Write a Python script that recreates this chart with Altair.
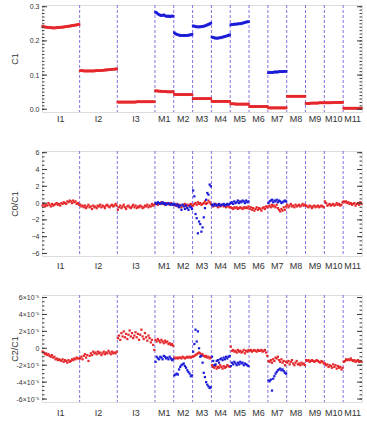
import altair as alt
import pandas as pd

# ---------------- data ----------------
BANDS = ["I1", "I2", "I3", "M1", "M2", "M3", "M4", "M5", "M6", "M7", "M8", "M9", "M10", "M11"]
DETECTORS = [32, 32, 32, 16, 16, 16, 16, 16, 16, 16, 16, 16, 16, 16]
DUAL_GAIN = ["M1", "M2", "M3", "M4", "M5", "M7"]

# C1, low gain (red), one list per band in BANDS order
C1_LOW = [
    [0.242, 0.241, 0.241, 0.240, 0.240, 0.239, 0.239, 0.239, 0.238, 0.238, 0.238, 0.238, 0.239, 0.239, 0.239, 0.240,
     0.240, 0.240, 0.241, 0.241, 0.242, 0.242, 0.243, 0.243, 0.244, 0.245, 0.245, 0.246, 0.246, 0.247, 0.248, 0.248],
    [0.113, 0.113, 0.113, 0.112, 0.112, 0.112, 0.112, 0.112, 0.112, 0.112, 0.112, 0.112, 0.112, 0.113, 0.113, 0.113,
     0.113, 0.113, 0.114, 0.114, 0.114, 0.115, 0.115, 0.115, 0.116, 0.116, 0.116, 0.117, 0.117, 0.117, 0.118, 0.118],
    [0.021, 0.021, 0.021, 0.021, 0.021, 0.021, 0.021, 0.021, 0.021, 0.021, 0.021, 0.021, 0.021, 0.021, 0.021, 0.021,
     0.022, 0.022, 0.022, 0.022, 0.022, 0.022, 0.022, 0.022, 0.022, 0.022, 0.022, 0.022, 0.022, 0.022, 0.022, 0.022],
    [0.054, 0.054, 0.053, 0.053, 0.053, 0.052, 0.052, 0.052, 0.052, 0.052, 0.051, 0.051, 0.051, 0.051, 0.051, 0.052],
    [0.044, 0.043, 0.043, 0.043, 0.043, 0.043, 0.043, 0.043, 0.043, 0.043, 0.043, 0.043, 0.043, 0.043, 0.043, 0.043],
    [0.031, 0.031, 0.031, 0.031, 0.031, 0.031, 0.031, 0.031, 0.031, 0.031, 0.031, 0.031, 0.031, 0.031, 0.031, 0.031],
    [0.023, 0.023, 0.023, 0.023, 0.023, 0.023, 0.023, 0.023, 0.023, 0.023, 0.023, 0.023, 0.023, 0.023, 0.023, 0.023],
    [0.016, 0.016, 0.016, 0.016, 0.015, 0.015, 0.015, 0.015, 0.015, 0.015, 0.015, 0.015, 0.015, 0.015, 0.015, 0.015],
    [0.008, 0.008, 0.008, 0.008, 0.008, 0.008, 0.008, 0.008, 0.008, 0.008, 0.008, 0.008, 0.008, 0.008, 0.008, 0.008],
    [0.004, 0.004, 0.004, 0.004, 0.004, 0.004, 0.004, 0.004, 0.004, 0.004, 0.004, 0.004, 0.004, 0.004, 0.004, 0.004],
    [0.038, 0.038, 0.038, 0.038, 0.038, 0.038, 0.038, 0.038, 0.038, 0.038, 0.038, 0.038, 0.038, 0.038, 0.038, 0.038],
    [0.017, 0.017, 0.017, 0.017, 0.018, 0.018, 0.018, 0.018, 0.018, 0.018, 0.018, 0.019, 0.019, 0.019, 0.019, 0.019],
    [0.019, 0.019, 0.019, 0.019, 0.019, 0.019, 0.019, 0.020, 0.020, 0.020, 0.020, 0.020, 0.020, 0.020, 0.020, 0.020],
    [0.003, 0.003, 0.003, 0.003, 0.003, 0.003, 0.003, 0.003, 0.003, 0.003, 0.003, 0.003, 0.003, 0.003, 0.003, 0.003],
]
# C1, high gain (blue), one list per band in DUAL_GAIN order
C1_HIGH = [
    [0.284, 0.282, 0.279, 0.277, 0.275, 0.274, 0.275, 0.276, 0.274, 0.272, 0.272, 0.273, 0.271, 0.272, 0.273, 0.272],
    [0.224, 0.221, 0.219, 0.218, 0.217, 0.216, 0.216, 0.216, 0.216, 0.216, 0.216, 0.216, 0.217, 0.217, 0.218, 0.219],
    [0.244, 0.243, 0.242, 0.241, 0.241, 0.241, 0.241, 0.242, 0.242, 0.243, 0.244, 0.245, 0.247, 0.248, 0.250, 0.252],
    [0.211, 0.210, 0.209, 0.208, 0.208, 0.208, 0.209, 0.209, 0.210, 0.211, 0.212, 0.213, 0.214, 0.215, 0.216, 0.218],
    [0.247, 0.248, 0.248, 0.249, 0.249, 0.249, 0.250, 0.250, 0.250, 0.251, 0.252, 0.253, 0.254, 0.255, 0.256, 0.256],
    [0.107, 0.108, 0.108, 0.108, 0.108, 0.109, 0.109, 0.109, 0.109, 0.110, 0.110, 0.110, 0.110, 0.111, 0.111, 0.111],
]

# C0/C1, low gain (red)
C0C1_LOW = [
    [-0.3, -0.1, -0.4, -0.2, -0.3, 0.0, -0.2, -0.4, -0.1, -0.3, -0.2, -0.1, 0.0, -0.2, -0.1, -0.3,
     0.0, -0.1, 0.1, 0.0, -0.1, 0.2, 0.1, 0.3, 0.2, 0.0, 0.3, 0.1, 0.2, -0.1, 0.0, -0.2],
    [-0.2, -0.4, -0.3, -0.5, -0.3, -0.6, -0.4, -0.2, -0.5, -0.4, -0.7, -0.3, -0.5, -0.4, -0.6, -0.3,
     -0.4, -0.2, -0.5, -0.3, -0.4, -0.6, -0.3, -0.2, -0.4, -0.5, -0.3, -0.2, -0.4, -0.3, -0.1, -0.3],
    [-0.8, -0.5, -0.3, -0.6, -0.4, -0.2, -0.5, -0.7, -0.4, -0.3, -0.5, -0.6, -0.4, -0.2, -0.5, -0.3,
     -0.6, -0.4, -0.5, -0.3, -0.4, -0.6, -0.5, -0.3, -0.4, -0.2, -0.5, -0.3, -0.4, -0.1, -0.3, -0.2],
    [-0.1, 0.0, -0.2, 0.0, -0.1, 0.1, -0.1, 0.0, -0.2, -0.1, 0.0, -0.1, -0.2, 0.0, -0.1, -0.2],
    [-0.2, -0.3, -0.1, -0.4, -0.2, -0.3, -0.5, -0.2, -0.3, -0.1, -0.4, -0.2, -0.3, -0.2, -0.1, -0.3],
    [-0.3, -0.1, 0.0, -0.2, 0.1, -0.1, 0.0, -0.2, -0.1, 0.0, 0.2, -0.1, 0.0, 0.3, 0.1, -0.1],
    [-0.2, -0.4, -0.3, -0.1, -0.3, -0.5, -0.2, -0.4, -0.3, -0.2, -0.4, -0.3, -0.5, -0.3, -0.4, -0.5],
    [-0.5, -0.6, -0.7, -0.5, -0.6, -0.5, -0.7, -0.6, -0.5, -0.6, -0.7, -0.5, -0.6, -0.5, -0.6, -0.4],
    [-0.7, -0.5, -0.8, -0.6, -0.9, -0.7, -0.5, -0.8, -0.6, -0.7, -0.9, -0.6, -0.5, -0.7, -0.4, -0.5],
    [-0.4, -0.3, -0.5, -0.2, -0.4, -0.3, -0.5, -0.2, -0.6, -0.8, -1.0, -0.7, -0.9, -0.5, -0.8, -0.4],
    [-0.2, -0.5, -0.3, -0.1, -0.4, -0.3, -0.5, -0.2, -0.4, -0.3, -0.2, -0.4, -0.3, -0.1, -0.3, -0.2],
    [-0.3, -0.4, -0.5, -0.3, -0.4, -0.6, -0.4, -0.3, -0.5, -0.4, -0.3, -0.5, -0.4, -0.3, -0.4, -0.5],
    [0.2, 0.0, -0.3, -0.2, -0.1, -0.3, -0.2, -0.1, -0.3, -0.2, 0.0, -0.2, -0.1, -0.3, -0.2, 0.1],
    [0.2, 0.1, 0.2, 0.0, 0.1, -0.1, 0.0, -0.2, -0.1, 0.0, -0.3, -0.1, 0.0, -0.2, 0.1, -0.1],
]
# C0/C1, high gain (blue)
C0C1_HIGH = [
    [0.0, -0.1, 0.1, 0.0, -0.1, 0.0, 0.1, -0.1, 0.0, -0.2, -0.1, 0.0, -0.1, -0.2, -0.1, -0.2],
    [-0.1, -0.2, -0.3, -0.2, -0.5, -0.3, -0.8, -0.2, -0.4, -0.7, -0.3, -0.6, -0.8, -0.4, -0.5, -0.7],
    [1.5, 0.8, -1.3, -1.8, -3.6, -2.2, -2.5, -3.4, -2.9, -1.7, -0.6, 0.4, 1.2, 1.0, 2.2, 2.0],
    [-0.2, -0.3, -0.1, -0.2, -0.3, -0.2, -0.1, -0.3, -0.2, -0.2, -0.1, -0.3, -0.2, -0.1, -0.2, -0.1],
    [0.0, 0.1, -0.1, 0.2, 0.0, 0.1, 0.3, 0.0, 0.2, 0.1, 0.3, 0.2, 0.0, 0.3, 0.1, 0.2],
    [0.0, 0.2, 0.3, 0.4, 0.1, 0.3, 0.2, 0.4, 0.1, 0.3, 0.2, 0.0, 0.1, 0.2, 0.3, 0.2],
]

# C2/C1 in units of 1e-6, low gain (red)
C2C1_LOW_E6 = [
    [-0.4, -0.5, -0.7, -0.6, -0.8, -0.7, -0.9, -1.0, -0.8, -1.1, -1.0, -1.3, -1.2, -1.4, -1.3, -1.4,
     -1.5, -1.3, -1.6, -1.4, -1.5, -1.7, -1.4, -1.6, -1.5, -1.3, -1.4, -1.2, -1.3, -1.1, -1.2, -1.2],
    [-1.2, -1.0, -1.3, -0.9, -0.7, -1.1, -0.8, -1.5, -0.9, -0.6, -0.8, -0.4, -0.6, -0.5, -0.7, -0.4,
     -0.6, -0.5, -0.8, -0.6, -0.4, -0.7, -0.5, -0.6, -0.3, -0.5, -0.7, -0.4, -0.6, -0.5, -0.6, -0.4],
    [1.2, 1.5, 1.0, 1.8, 1.4, 2.0, 1.3, 1.7, 1.1, 1.6, 2.1, 1.4, 1.8, 1.2, 1.5, 1.9,
     1.3, 1.7, 1.0, 1.6, 2.2, 1.4, 1.1, 1.8, 1.3, 0.9, 1.5, 1.2, 0.7, 1.0, 0.4, -0.2],
    [1.0, 0.8, 1.1, 0.9, 0.7, 1.0, 0.8, 0.6, 0.9, 0.7, 0.8, 0.5, 0.6, 0.4, 0.5, 0.3],
    [-1.1, -1.2, -1.1, -1.2, -1.1, -1.1, -1.2, -1.0, -1.1, -1.2, -1.1, -1.0, -1.1, -1.0, -1.1, -1.0],
    [-1.0, -0.9, -0.8, -0.7, -0.6, -0.5, -0.6, -0.8, -0.7, -0.9, -1.0, -0.9, -1.1, -1.0, -1.2, -1.1],
    [-2.0, -2.2, -2.3, -2.1, -2.4, -2.2, -2.3, -2.0, -2.2, -2.4, -2.1, -2.3, -2.2, -2.0, -2.1, -2.2],
    [0.2, -0.3, -0.2, -0.4, -0.3, -0.5, -0.2, -0.4, -0.3, -0.5, -0.4, -0.2, -0.6, -0.3, -0.4, -0.2],
    [-0.3, -0.2, -0.4, -0.3, -0.2, -0.3, -0.4, -0.2, -0.3, -0.3, -0.2, -0.4, -0.3, -0.2, -0.5, -0.9],
    [-1.5, -1.6, -1.4, -1.7, -1.3, -1.5, -1.1, -1.2, -1.0, -1.4, -1.6, -1.3, -1.7, -1.5, -2.0, -1.6],
    [-1.7, -1.5, -1.9, -1.6, -1.4, -1.8, -2.0, -1.7, -1.5, -1.9, -1.8, -2.0, -1.7, -1.9, -1.8, -2.0],
    [-1.4, -1.5, -1.4, -1.6, -1.5, -1.4, -1.5, -1.6, -1.5, -1.4, -1.5, -1.6, -1.7, -1.5, -1.6, -1.8],
    [-1.8, -2.0, -1.9, -2.2, -2.0, -2.1, -2.3, -1.9, -2.2, -2.0, -2.4, -2.1, -2.3, -2.2, -2.5, -2.3],
    [-1.6, -1.5, -1.3, -1.4, -1.3, -1.4, -1.2, -1.4, -1.5, -1.4, -1.6, -1.5, -1.4, -1.6, -1.5, -1.6],
]
# C2/C1 in units of 1e-6, high gain (blue)
C2C1_HIGH_E6 = [
    [-1.6, -1.0, -1.2, -1.3, -1.0, -1.1, -1.3, -0.9, -1.0, -1.2, -1.1, -1.3, -1.0, -1.2, -1.4, -1.3],
    [-3.2, -3.1, -3.0, -3.1, -2.5, -2.2, -2.0, -1.9, -1.8, -2.1, -2.3, -2.6, -2.8, -3.0, -3.3, -3.2],
    [-0.4, 0.5, 2.2, 0.8, 2.0, 0.0, -1.0, -0.9, -1.7, -2.9, -3.4, -4.0, -4.3, -4.5, -4.7, -4.6],
    [-1.0, -1.5, -2.0, -1.9, -1.5, -1.4, -1.7, -1.3, -1.2, -1.4, -1.1, -1.3, -1.0, -1.2, -1.0, -0.9],
    [-2.1, -1.7, -1.9, -1.6, -1.8, -2.0, -1.7, -1.9, -1.6, -1.8, -1.7, -2.0, -1.8, -1.9, -2.0, -2.1],
    [-3.8, -3.9, -3.7, -5.0, -3.6, -3.3, -3.0, -2.8, -2.6, -2.5, -2.4, -2.6, -2.5, -2.7, -2.9, -3.0],
]

Y1_TICKS = [0.0, 0.1, 0.2, 0.3]
Y2_TICKS = [-6, -4, -2, 0, 2, 4, 6]
Y3_TICKS = [-6, -4, -2, 0, 2, 4, 6]

# ---------------- styling ----------------
RED = "#e5272b"
BLUE = "#1c1cd8"
DASH = "#8a6fe0"
FRAME = "#3c3c3c"
TEXT = "#333333"
FONT = "Liberation Sans"
W = 320

starts = {}
_s = 0
for _b, _n in zip(BANDS, DETECTORS):
    starts[_b] = _s
    _s += _n
TOTAL = _s
boundaries = [starts[b] for b in BANDS[1:]]
mids = [starts[b] + n / 2 for b, n in zip(BANDS, DETECTORS)]

xscale = alt.Scale(domain=[0, TOTAL], nice=False, zero=False)


def points_frame(low, high):
    rows = []
    for b, vals in zip(BANDS, low):
        for i, v in enumerate(vals):
            rows.append({"idx": starts[b] + i + 0.5, "value": v, "gain": "low"})
    for b, vals in zip(DUAL_GAIN, high):
        for i, v in enumerate(vals):
            rows.append({"idx": starts[b] + i + 0.5, "value": v, "gain": "high"})
    return pd.DataFrame(rows)


def minor_values(majors, step):
    lo, hi = majors[0], majors[-1]
    out = []
    k = 0
    while lo + k * step <= hi + 1e-12:
        out.append(round(lo + k * step, 6))
        k += 1
    return out


def panel(low, high, title, domain, majors, minor_step, height, size, label_dy,
          fmt=None, label_expr=None):
    yscale = alt.Scale(domain=domain, nice=False, zero=False)
    axis_kw = dict(values=majors, ticks=False, domain=False, grid=False,
                   labelFontSize=7, labelColor=TEXT, labelFont=FONT, labelPadding=3,
                   title=title, titleFont=FONT, titleFontSize=9, titleFontWeight="normal",
                   titleColor=TEXT, titleX=-28, titleBaseline="middle")
    if fmt:
        axis_kw["format"] = fmt
    if label_expr:
        axis_kw["labelExpr"] = label_expr
    yaxis = alt.Axis(**axis_kw)

    dashes = alt.Chart(pd.DataFrame({"idx": boundaries})).mark_rule(
        color=DASH, strokeDash=[3, 2], strokeWidth=1
    ).encode(x=alt.X("idx:Q", scale=xscale, axis=None))

    pts = alt.Chart(points_frame(low, high)).mark_square(size=size, opacity=1).encode(
        x=alt.X("idx:Q", scale=xscale, axis=None),
        y=alt.Y("value:Q", scale=yscale, axis=yaxis),
        color=alt.Color("gain:N", scale=alt.Scale(domain=["low", "high"], range=[RED, BLUE]),
                        legend=None),
    )

    major_df = pd.DataFrame({"value": majors})
    minor_df = pd.DataFrame({"value": minor_values(majors, minor_step)})
    tick_layers = []
    for dfv, ln in ((major_df, 5), (minor_df, 2.5)):
        for x0, x1 in ((0, ln), (W - ln, W)):
            tick_layers.append(
                alt.Chart(dfv).mark_rule(color=FRAME, strokeWidth=1).encode(
                    y=alt.Y("value:Q", scale=yscale, axis=yaxis),
                    x=alt.value(x0), x2=alt.value(x1),
                )
            )

    labels = alt.Chart(pd.DataFrame({"band": BANDS, "mid": mids})).mark_text(
        font=FONT, fontSize=9, color=TEXT, baseline="middle", align="center"
    ).encode(
        x=alt.X("mid:Q", scale=xscale, axis=None),
        y=alt.value(height + label_dy),
        text="band:N",
    )

    return alt.layer(dashes, pts, *tick_layers, labels).properties(width=W, height=height)


p1 = panel(C1_LOW, C1_HIGH, "C1", [-0.008, 0.305], Y1_TICKS, 0.01, 107, 7, 7, fmt=".1f")
p2 = panel(C0C1_LOW, C0C1_HIGH, "C0/C1", [-6.3, 6.2], Y2_TICKS, 0.5, 105, 5, 10, fmt="d")
p3 = panel(C2C1_LOW_E6, C2C1_HIGH_E6, "C2/C1", [-6.35, 6.3], Y3_TICKS, 0.5, 107, 5, 11,
           label_expr="datum.value == 0 ? '0' : replace(format(datum.value, 'd'), '−', '-') + '×10⁻⁶'")

chart = alt.vconcat(p1, p2, p3, spacing=39, bounds="flush").properties(
    padding={"left": 9, "top": 2, "right": 0, "bottom": 0}
).configure_view(stroke=FRAME, strokeWidth=1).configure(background="white")

chart.save("out.html", embed_options={"renderer": "svg", "actions": False})
